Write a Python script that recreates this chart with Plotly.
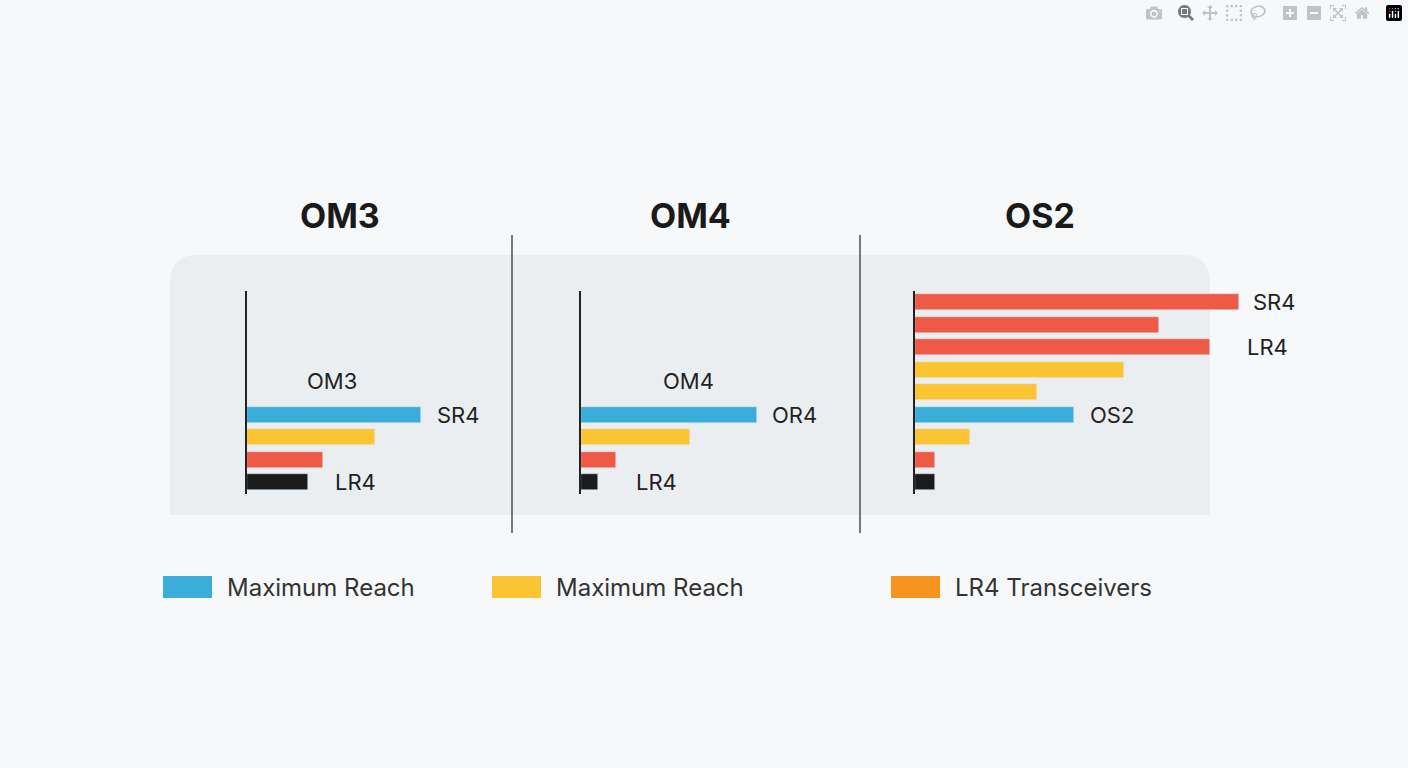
import plotly.graph_objects as go

W, H = 1408, 768

# data (row index -> length)
rows = ["r1", "r2", "r3", "r4", "r5", "r6", "r7", "r8", "r9"]
om3_rows = ["r6", "r7", "r8", "r9"]
om3_vals = [174, 128, 76, 61]
om4_rows = ["r6", "r7", "r8", "r9"]
om4_vals = [176, 109, 35, 17]
os2_rows = rows
os2_vals = [324, 244, 295, 209, 122, 159, 55, 20, 20]

BLUE, YEL, RED, BLK, ORG = "#3AAED8", "#FBC433", "#EE5A45", "#1B1B1B", "#F7941D"
om3_cols = [BLUE, YEL, RED, BLK]
om4_cols = [BLUE, YEL, RED, BLK]
os2_cols = [RED, RED, RED, YEL, YEL, BLUE, YEL, RED, BLK]

titles = ["OM3", "OM4", "OS2"]
legend_labels = ["Maximum Reach", "Maximum Reach", "LR4 Transceivers"]
legend_cols = [BLUE, YEL, ORG]


def px(x):
    return x / W


def py(y):
    return 1 - y / H


fig = go.Figure()
panels = [(om3_rows, om3_vals, om3_cols, 247, 500),
          (om4_rows, om4_vals, om4_cols, 581, 850),
          (os2_rows, os2_vals, os2_cols, 915, 1300)]
ydom = [py(493.5), py(291)]
for i, (r, v, c, x0, x1) in enumerate(panels):
    n = "" if i == 0 else str(i + 1)
    fig.add_trace(go.Bar(x=v, y=r, orientation="h", marker_color=c, width=0.72,
                         xaxis="x" + n, yaxis="y" + n, showlegend=False,
                         hoverinfo="x"))
    fig.layout["xaxis" + n] = dict(domain=[px(x0), px(x1)], range=[0, x1 - x0],
                                   visible=False, anchor="y" + n)
    fig.layout["yaxis" + n] = dict(domain=ydom, categoryorder="array", categoryarray=rows,
                                   range=[8.5, -0.5], anchor="x" + n, showline=True,
                                   linecolor="#222", linewidth=1.5, showticklabels=False,
                                   showgrid=False, zeroline=False, ticks="")

shapes = []
# rounded gray panel
x0, x1, y0, y1, rr = 170, 1210, 255, 515, 28
path = (f"M {px(x0)},{py(y1)} L {px(x0)},{py(y0 + rr)} Q {px(x0)},{py(y0)} {px(x0 + rr)},{py(y0)} "
        f"L {px(x1 - rr)},{py(y0)} Q {px(x1)},{py(y0)} {px(x1)},{py(y0 + rr)} L {px(x1)},{py(y1)} Z")
shapes.append(dict(type="path", path=path, xref="paper", yref="paper",
                   fillcolor="#EBEEF1", line_width=0, layer="below"))
for xd in [512, 860]:
    shapes.append(dict(type="line", xref="paper", yref="paper", x0=px(xd), x1=px(xd),
                       y0=py(235), y1=py(533), line=dict(color="#333", width=1.3)))

ann = []
font = "Inter, Roboto, sans-serif"
for t, xc in zip(titles, [340, 690, 1040]):
    ann.append(dict(text="<b>" + t + "</b>", x=px(xc), y=py(215), xref="paper", yref="paper",
                    xanchor="center", yanchor="middle", showarrow=False,
                    font=dict(size=34, color="#1a1a1a", family=font)))

labels = [("OM3", "x", "y", 58, 3.5), ("SR4", "x", "y", 188, 5), ("LR4", "x", "y", 86, 8),
          ("OM4", "x2", "y2", 80, 3.5), ("OR4", "x2", "y2", 189, 5), ("LR4", "x2", "y2", 53, 8),
          ("SR4", "x3", "y3", 336, 0), ("LR4", "x3", "y3", 330, 2), ("OS2", "x3", "y3", 173, 5)]
for t, xr, yr, xv, yv in labels:
    ann.append(dict(text=t, x=xv, y=yv, xref=xr, yref=yr, showarrow=False,
                    xanchor="left", yanchor="middle",
                    font=dict(size=22, color="#222", family=font)))

for lab, col, xs in zip(legend_labels, legend_cols, [163, 492, 891]):
    shapes.append(dict(type="rect", xref="paper", yref="paper", x0=px(xs), x1=px(xs + 49),
                       y0=py(598), y1=py(576), fillcolor=col, line_width=0))
    ann.append(dict(text=lab, x=px(xs + 62), y=py(587), xref="paper", yref="paper",
                    showarrow=False, xanchor="left", yanchor="middle",
                    font=dict(size=24, color="#333", family=font)))

fig.update_layout(width=W, height=H, margin=dict(l=0, r=0, t=0, b=0),
                  paper_bgcolor="#F6F8F9", plot_bgcolor="rgba(0,0,0,0)",
                  shapes=shapes, annotations=ann, bargap=0)
fig.write_html("out.html")

# drop the browser's default body margin
with open("out.html") as f:
    html = f.read()
html = html.replace("<body>", '<body style="margin:0;background:#F6F8F9">', 1)
with open("out.html", "w") as f:
    f.write(html)
